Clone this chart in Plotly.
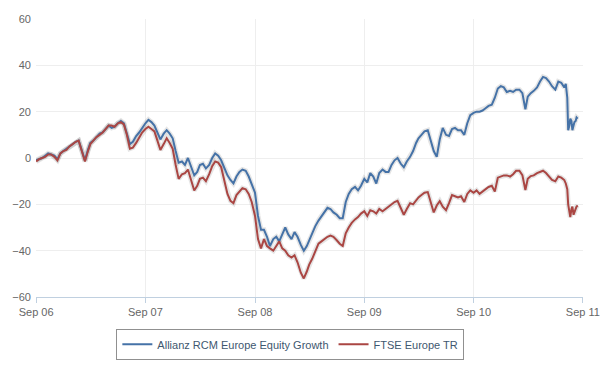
import plotly.graph_objects as go

# ---- data (percent performance) ----
months = [
    "2006-09", "2006-10", "2006-11", "2006-12",
    "2007-01", "2007-02", "2007-03", "2007-04", "2007-05", "2007-06",
    "2007-07", "2007-08", "2007-09", "2007-10", "2007-11", "2007-12",
    "2008-01", "2008-02", "2008-03", "2008-04", "2008-05", "2008-06",
    "2008-07", "2008-08", "2008-09", "2008-10", "2008-11", "2008-12",
    "2009-01", "2009-02", "2009-03", "2009-04", "2009-05", "2009-06",
    "2009-07", "2009-08", "2009-09", "2009-10", "2009-11", "2009-12",
    "2010-01", "2010-02", "2010-03", "2010-04", "2010-05", "2010-06",
    "2010-07", "2010-08", "2010-09", "2010-10", "2010-11", "2010-12",
    "2011-01", "2011-02", "2011-03", "2011-04", "2011-05", "2011-06",
]
days_in_month = ["01", "11", "21"]
late_dates = [
    "2011-07-01", "2011-07-06", "2011-07-11", "2011-07-14", "2011-07-18",
    "2011-07-21", "2011-07-25", "2011-07-28", "2011-08-01", "2011-08-04",
    "2011-08-08", "2011-08-11", "2011-08-15",
]
dates = [f"{m}-{d}" for m in months for d in days_in_month] + late_dates

allianz = [
    -1, -0.5, 0,   1, 2, 1.5,   1, -0.5, 2,   3, 4, 5,
    6, 7, 7.5,   3, -1, 3.5,   6.5, 7.5, 9,   10.5, 11, 12.5,
    14, 13, 13.5,   15, 16, 15,   11, 6, 7,   9.5, 11, 13,
    15, 16.5, 15.5,   14, 11, 8,   10.5, 12, 10.5,   8.5, 3, -2,
    -1.5, -3, 0,   -4, -7.5, -6,   -3, -2.5, -4.5,   -3, 0, 2,
    1, -1, -4,   -7.5, -9.5, -11,   -8, -6, -5,   -5.5, -8, -11,
    -15, -25, -31,   -31, -34, -38,   -35, -34, -36,   -33, -30, -33,
    -35, -32, -34,   -37.5, -40, -38,   -35.5, -32.5, -29.5,   -27, -25, -23,
    -21.5, -22, -23.5,   -24.5, -26, -26,   -19, -15.5, -13.5,   -12.5, -14, -12,
    -9, -10.5, -6.5,   -8, -11, -6.5,   -5, -6, -6,   -3, -1, 0,
    -2.5, -4, -1.5,   0.5, 3, 6.5,   8.5, 10, 11.5,   12, 7, 3,
    0.5, 8, 13,   10, 9.5, 12.5,   13, 12, 12,   10, 15, 18.5,
    19.5, 20, 20,   20.5, 21.5, 22.5,   23, 26, 30,   31, 30.5, 28.5,
    29, 28.5, 29.5,   29.5, 28, 21,   26.5, 28, 29,   30.5, 33, 35,
    34.5, 33, 31,   29.5, 33, 32.5,
    30.5, 32, 26, 12, 14, 17, 16, 12, 14, 15.5, 16, 17.5, 17,
]

ftse = [
    -1.5, -0.5, 0,   0.5, 1.5, 1.5,   0.5, -1, 2,   3, 3.5, 5,
    6, 7, 7.5,   3, -1.5, 3,   6, 7.5, 9,   10, 11, 12.5,
    14, 14, 13.5,   15, 15.5, 14.5,   10, 4, 4.5,   6.5, 8.5, 11,
    12.5, 13.5, 12.5,   11.5, 7.5, 3.5,   6, 8.5, 6.5,   4, -3, -9,
    -7, -6.5, -5,   -10, -14, -12,   -9, -8.5, -10,   -7, -3.5, -1.5,
    -2, -4, -10,   -15.5, -18.5, -19.5,   -16, -14.5, -13,   -13.5, -15.5, -19,
    -25, -35, -39,   -35, -38, -39,   -40, -38, -36,   -39, -40, -42,
    -43, -42, -45,   -49.5, -52, -49,   -46, -43.5, -40,   -37, -36, -35,
    -34, -33.5, -34,   -35.5, -37, -38,   -32.5, -30, -28,   -26.5, -25.5, -24,
    -23, -25, -22.5,   -23, -24, -22,   -23, -22, -21,   -20, -19, -18.5,
    -21.5, -24.5, -22,   -19.5, -20, -18.5,   -17, -16, -15,   -14.7, -19, -23.5,
    -20.5, -18.6, -21,   -22.5, -19.5, -16,   -16.5, -17, -16.5,   -19, -15.5, -14,
    -15, -14, -15.5,   -14.5, -13.5, -12.5,   -12, -14.5, -8.5,   -8, -7.5, -7.5,
    -8, -7, -5.5,   -5.5, -7.4, -13.8,   -9, -7.8, -7.5,   -6.5, -6, -5.5,
    -6.5, -7.8, -9.5,   -10, -8, -8.5,
    -9.5, -11, -13.5, -20, -24, -25.5, -22, -21, -24.5, -23, -22, -21, -20.5,
]

series_names = ["Allianz RCM Europe Equity Growth", "FTSE Europe TR"]
series_values = [allianz, ftse]
series_colors = ["#4572A7", "#AA4643"]

tick_dates = ["2006-09-01", "2007-09-01", "2008-09-01", "2009-09-01", "2010-09-01", "2011-09-01"]
tick_labels = ["Sep 06", "Sep 07", "Sep 08", "Sep 09", "Sep 10", "Sep 11"]
y_ticks = [-60, -40, -20, 0, 20, 40, 60]

FONT = "Liberation Sans, Arial, sans-serif"

fig = go.Figure()
# soft shadows under the lines
for vals in series_values:
    fig.add_trace(go.Scatter(
        x=dates, y=vals, mode="lines",
        line=dict(color="rgba(0,0,0,0.10)", width=5),
        showlegend=False, hoverinfo="skip",
    ))
for name, vals, col in zip(series_names, series_values, series_colors):
    fig.add_trace(go.Scatter(
        x=dates, y=vals, mode="lines", name=name,
        line=dict(color=col, width=2),
    ))

fig.update_layout(
    width=600, height=365,
    margin=dict(l=36, r=17, t=19, b=68, autoexpand=False),
    paper_bgcolor="white", plot_bgcolor="white",
    font=dict(family=FONT, size=11, color="#666666"),
    showlegend=True,
    legend=dict(
        orientation="h", x=0.465, xanchor="center", y=-0.17, yanchor="middle",
        bordercolor="#909090", borderwidth=1, bgcolor="white",
        font=dict(family=FONT, size=11, color="#3E576F"),
        itemwidth=30,
    ),
    xaxis=dict(
        type="date", range=["2006-08-31 12:00", "2011-09-01 12:00"],
        tickmode="array", tickvals=tick_dates, ticktext=tick_labels,
        showgrid=True, gridcolor="#EEEEEE", gridwidth=1,
        showline=True, linecolor="#C0D0E0", linewidth=1,
        ticks="outside", ticklen=5, tickcolor="#C0D0E0",
        tickfont=dict(family=FONT, size=11, color="#666666"),
        zeroline=False, fixedrange=True, automargin=False,
    ),
    yaxis=dict(
        range=[-60, 60], tickmode="array", tickvals=y_ticks,
        showgrid=True, gridcolor="#EEEEEE", gridwidth=1,
        zeroline=False, showline=False,
        tickfont=dict(family=FONT, size=11, color="#666666"),
        ticklabelstandoff=4, fixedrange=True, automargin=False,
    ),
)

fig.write_html(
    "out.html",
    config={"displayModeBar": False, "staticPlot": True},
    post_script="document.body.style.margin='0';document.body.style.overflow='hidden';",
)
